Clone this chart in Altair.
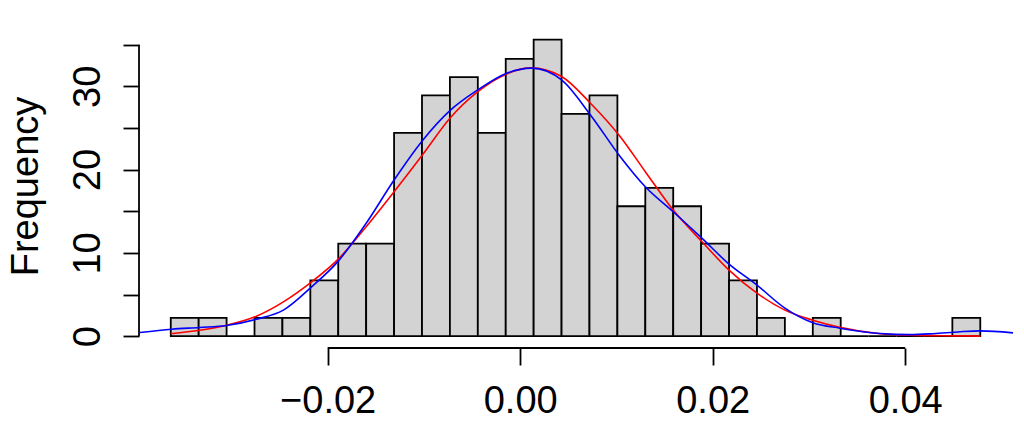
import altair as alt
import pandas as pd

# ---- data ----
bin_edges = [-0.0363, -0.0334, -0.0305, -0.0276, -0.0247, -0.0218, -0.0189, -0.0160,
             -0.0131, -0.0102, -0.0073, -0.0044, -0.0015, 0.0014, 0.0043, 0.0072,
             0.0101, 0.0130, 0.0159, 0.0188, 0.0217, 0.0246, 0.0275, 0.0304,
             0.0333, 0.0362, 0.0391, 0.0420, 0.0449, 0.0478]
bar_heights = [2.2, 2.2, 0, 2.2, 2.2, 6.7, 11.1, 11.1, 24.4, 28.9, 31.1, 24.4, 33.3,
               35.6, 26.7, 28.9, 15.6, 17.8, 15.6, 11.1, 6.7, 2.2, 0, 2.2, 0, 0, 0, 0, 2.2]

red_x = [-0.0363, -0.0333, -0.0305, -0.0274, -0.0246, -0.0217, -0.0189, -0.0160,
         -0.0131, -0.0101, -0.0073, -0.0044, -0.0014, 0.0011, 0.0043, 0.0073,
         0.0104, 0.0130, 0.0159, 0.0189, 0.0217, 0.0246, 0.0275, 0.0304,
         0.0332, 0.0374, 0.0405, 0.0457, 0.0478]
red_y = [0.30, 0.72, 1.32, 2.40, 4.12, 6.49, 9.25, 13.14, 17.34, 21.84, 26.17, 29.36,
         31.49, 32.21, 31.17, 27.97, 23.95, 19.75, 15.14, 11.33, 7.93, 5.17, 3.13,
         1.92, 1.08, 0.30, 0.12, 0.04, 0.01]

blue_x = [-0.0395, -0.0362, -0.0333, -0.0305, -0.0274, -0.0246, -0.0217, -0.0189,
          -0.0160, -0.0131, -0.0101, -0.0073, -0.0044, -0.0014, 0.0012, 0.0043,
          0.0073, 0.0104, 0.0130, 0.0159, 0.0189, 0.0217, 0.0246, 0.0275, 0.0304,
          0.0332, 0.0374, 0.0405, 0.0429, 0.0457, 0.0478, 0.0512]
blue_y = [0.44, 0.84, 1.05, 1.29, 2.04, 3.13, 5.89, 9.01, 13.55, 18.75, 23.56, 27.08,
          29.57, 31.57, 32.18, 30.77, 26.56, 21.55, 17.94, 14.94, 11.74, 8.65, 6.13,
          3.37, 1.62, 0.96, 0.32, 0.18, 0.30, 0.54, 0.64, 0.40]

x_ticks = [-0.02, 0.0, 0.02, 0.04]
y_ticks = [0, 5, 10, 15, 20, 25, 30, 35]
x_domain = [-0.0396, 0.0512]
y_domain = [-1.42, 37.0]
y_title = "Frequency"

FONT = "Liberation Sans"
FS = 38

bars = pd.DataFrame({
    "x0": bin_edges[:-1],
    "x1": bin_edges[1:],
    "h": bar_heights,
})
red = pd.DataFrame({"x": red_x, "y": red_y})
blue = pd.DataFrame({"x": blue_x, "y": blue_y})

xs = alt.Scale(domain=x_domain, nice=False, zero=False)
ys = alt.Scale(domain=y_domain, nice=False, zero=False)

x_axis = alt.Axis(values=x_ticks, format=".2f", domain=False, grid=False,
                  tickSize=17, tickWidth=1.8, tickColor="black",
                  labelFont=FONT, labelFontSize=FS, labelColor="black",
                  labelBaseline="alphabetic", labelPadding=47, labelFlush=False,
                  labelOverlap=False, title=None)
y_axis = alt.Axis(values=y_ticks, domain=False, grid=False,
                  tickSize=16, tickWidth=1.8, tickColor="black",
                  labelExpr="datum.value % 10 == 0 ? datum.label : ''",
                  labelFont=FONT, labelFontSize=FS, labelColor="black",
                  labelAngle=270, labelAlign="center", labelBaseline="alphabetic",
                  labelPadding=24, labelOverlap=False, labelFlush=False,
                  title=y_title, titleFont=FONT, titleFontSize=FS,
                  titleFontWeight="normal", titleColor="black", titleAngle=270,
                  titleAlign="center", titleBaseline="alphabetic",
                  titleX=-102, titleY=158)

bar_layer = alt.Chart(bars).mark_rect(
    fill="#D3D3D3", stroke="black", strokeWidth=1.8
).encode(
    x=alt.X("x0:Q", scale=xs, axis=x_axis),
    x2="x1:Q",
    y=alt.Y("h:Q", scale=ys, axis=y_axis),
    y2=alt.datum(0),
)

red_layer = alt.Chart(red).mark_line(color="#FF0000", strokeWidth=1.6,
                                     interpolate="monotone", clip=True).encode(
    x=alt.X("x:Q", scale=xs, axis=x_axis),
    y=alt.Y("y:Q", scale=ys, axis=y_axis),
)

blue_layer = alt.Chart(blue).mark_line(color="#0000FF", strokeWidth=1.6,
                                       interpolate="monotone", clip=True).encode(
    x=alt.X("x:Q", scale=xs, axis=x_axis),
    y=alt.Y("y:Q", scale=ys, axis=y_axis),
)

x_axis_line = alt.Chart(pd.DataFrame({"a": [x_ticks[0]], "b": [x_ticks[-1]]})).mark_rule(
    color="black", strokeWidth=1.8
).encode(
    x=alt.X("a:Q", scale=xs, axis=x_axis),
    x2="b:Q",
    y=alt.datum(y_domain[0], scale=ys),
)

y_axis_line = alt.Chart(pd.DataFrame({"a": [y_ticks[0]], "b": [y_ticks[-1]]})).mark_rule(
    color="black", strokeWidth=1.8
).encode(
    y=alt.Y("a:Q", scale=ys, axis=y_axis),
    y2="b:Q",
    x=alt.datum(x_domain[0], scale=xs),
)

chart = alt.layer(bar_layer, red_layer, blue_layer, x_axis_line, y_axis_line).properties(
    width=874, height=320,
    autosize=alt.AutoSizeParams(type="none"),
    padding={"left": 139, "top": 28, "right": 11, "bottom": 82},
    background="white",
).configure_view(stroke=None)

chart.save("out.html", embed_options={"renderer": "svg", "actions": False})
